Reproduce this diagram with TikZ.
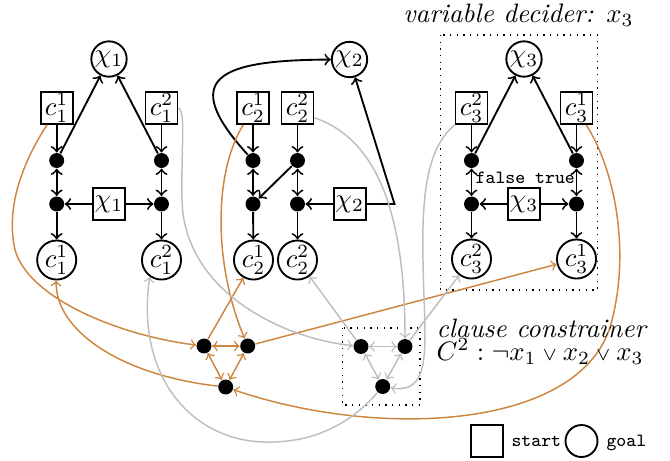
\documentclass[tikz,border=0pt]{standalone}
\definecolor{peru}{RGB}{205,133,63}
\definecolor{lgray}{RGB}{190,190,190}
\newcommand{\sor}{\mathbin{\scriptstyle\vee}}
\begin{document}
\begin{tikzpicture}[x=0.375pt,y=-0.375pt,
  sq/.style={draw, line width=0.7pt, minimum size=12pt, inner sep=0.3pt},
  gl/.style={draw, circle, line width=0.7pt, minimum size=12pt, inner sep=0.3pt},
  blob/.style={circle, fill=black, minimum size=5.6pt, inner sep=0pt},
  karr/.style={->, line width=0.7pt},
  karr2/.style={<->, line width=0.7pt},
  oarr/.style={->, draw=peru, line width=0.55pt},
  oarr2/.style={<->, draw=peru, line width=0.55pt},
  garr/.style={->, draw=lgray, line width=0.55pt},
  garr2/.style={<->, draw=lgray, line width=0.55pt},
  frame/.style={dotted, line width=0.5pt},
  lbl/.style={font=\ttfamily\scriptsize, inner sep=0pt},
  ttl/.style={inner sep=0pt}]
\useasboundingbox (0,0) rectangle (670,460);

% ---------- gadget x1
\node[gl] (X1c) at (109,59) {$\chi_1$};
\node[sq] (c11s) at (56.7,108) {$c^1_1$};
\node[sq] (c12s) at (161.5,108) {$c^2_1$};
\node[blob] (d11) at (56.7,160.5) {};
\node[blob] (d12) at (161.5,160.5) {};
\node[blob] (d13) at (56.7,204) {};
\node[blob] (d14) at (161.5,204) {};
\node[sq] (X1s) at (109,204) {$\chi_1$};
\node[gl] (c11g) at (56.7,260) {$c^1_1$};
\node[gl] (c12g) at (161.5,260) {$c^2_1$};
\draw[karr] (c11s) -- (d11);
\draw[karr2] (d11) -- (d13);
\draw[karr] (d13) -- (c11g);
\draw[karr] (c12s) -- (d12);
\draw[karr2] (d12) -- (d14);
\draw[karr] (d14) -- (c12g);
\draw[karr] (X1s) -- (d13);
\draw[karr] (X1s) -- (d14);
\draw[karr] (d11) -- (X1c);
\draw[karr] (d12) -- (X1c);

% ---------- gadget x2
\node[gl] (X2c) at (349.5,59.5) {$\chi_2$};
\node[sq] (c21s) at (253,108) {$c^1_2$};
\node[sq] (c22s) at (297.5,108) {$c^2_2$};
\node[blob] (d21) at (253,160.5) {};
\node[blob] (d22) at (297.5,160.5) {};
\node[blob] (d23) at (253,204) {};
\node[blob] (d24) at (297.5,204) {};
\node[sq] (X2s) at (349.8,204) {$\chi_2$};
\coordinate (x2k) at (394.5,204);
\node[gl] (c21g) at (253.5,260) {$c^1_2$};
\node[gl] (c22g) at (297.5,260) {$c^2_2$};
\draw[karr] (c21s) -- (d21);
\draw[karr2] (d21) -- (d23);
\draw[karr] (d23) -- (c21g);
\draw[karr] (c22s) -- (d22);
\draw[karr2] (d22) -- (d24);
\draw[karr] (d24) -- (c22g);
\draw[karr] (d22) -- (d23);
\draw[karr] (X2s) -- (d24);
\draw[karr] (X2s) -- (x2k) -- (X2c);
\draw[karr] (d21) .. controls (178,78) and (218,60) .. (X2c);

% ---------- gadget x3
\draw[frame] (440.7,35) rectangle (597.7,290);
\node[ttl, anchor=base, font=\itshape] (title) at (518.5,22) {variable decider: $x_3$};
\node[gl] (X3c) at (524,59) {$\chi_3$};
\node[sq] (c32s) at (471.5,108) {$c^2_3$};
\node[sq] (c31s) at (576.5,108) {$c^1_3$};
\node[blob] (d31) at (471.5,160.5) {};
\node[blob] (d32) at (576.5,160.5) {};
\node[blob] (d33) at (471.5,204) {};
\node[blob] (d34) at (576.5,204) {};
\node[sq] (X3s) at (524,204) {$\chi_3$};
\node[gl] (c32g) at (471.5,259) {$c^2_3$};
\node[gl] (c31g) at (576.5,259) {$c^1_3$};
\node[lbl, anchor=base] (fls) at (500.5,183) {false};
\node[lbl, anchor=base] (tru) at (555,183) {true};
\draw[karr] (c32s) -- (d31);
\draw[karr2] (d31) -- (d33);
\draw[karr] (d33) -- (c32g);
\draw[karr] (c31s) -- (d32);
\draw[karr2] (d32) -- (d34);
\draw[karr] (d34) -- (c31g);
\draw[karr] (X3s) -- (d33);
\draw[karr] (X3s) -- (d34);
\draw[karr] (d31) -- (X3c);
\draw[karr] (d32) -- (X3c);

% ---------- clause constrainer C^1 (orange)
\node[blob] (o1) at (204,346) {};
\node[blob] (o2) at (247.7,346) {};
\node[blob] (o3) at (225.7,387) {};
\draw[oarr2] (o1) -- (o2);
\draw[oarr2] (o1) -- (o3);
\draw[oarr2] (o2) -- (o3);
\draw[oarr] (c11s.-120) .. controls (18,170) and (8,210) .. (14,245)
            .. controls (22,295) and (115,335) .. (o1);
\draw[oarr] (o3) .. controls (120,375) and (55,330) .. (c11g);
\draw[oarr] (o1) -- (c21g);
\draw[oarr] (c21s.-120) .. controls (215,170) and (212,260) .. (o2);
\draw[oarr] (o2) -- (c31g);
\draw[oarr] (c31s.-60) .. controls (615,170) and (630,250) .. (612,320)
            .. controls (586,430) and (380,440) .. (o3);

% ---------- clause constrainer C^2 (gray)
\draw[frame] (342.3,328) rectangle (420,405);
\node[blob] (g1) at (361,346.5) {};
\node[blob] (g2) at (405,346.5) {};
\node[blob] (g3) at (382.7,386.5) {};
\draw[garr2] (g1) -- (g2);
\draw[garr2] (g1) -- (g3);
\draw[garr2] (g2) -- (g3);
\draw[garr] (c12s.east) .. controls (186,110) and (181,150) .. (182,200)
            .. controls (184,290) and (280,338) .. (g1);
\draw[garr] (g3) .. controls (345,430) and (305,443) .. (265,442)
            .. controls (195,441) and (135,380) .. (c12g.235);
\draw[garr] (c22s.-30) .. controls (380,140) and (405,220) .. (g2);
\draw[garr] (g1) -- (c22g);
\draw[garr] (c32s.south west) .. controls (425,150) and (422,200) .. (423,260)
            .. controls (424,340) and (435,395) .. (g3);
\draw[garr] (g2) -- (c32g);
\node[ttl, anchor=base west, font=\itshape] (cl1) at (436,337) {clause constrainer};
\node[ttl, anchor=base west] (cl2) at (436,360) {$C^2 : \neg x_1 \sor x_2 \sor x_3$};

% ---------- legend
\node[sq] (lsq) at (487,441) {};
\node[lbl, anchor=base west] (lst) at (511,446) {start};
\node[gl] (lgl) at (581.5,441) {};
\node[lbl, anchor=base west] (lgo) at (606,446) {goal};
\end{tikzpicture}
\end{document}
